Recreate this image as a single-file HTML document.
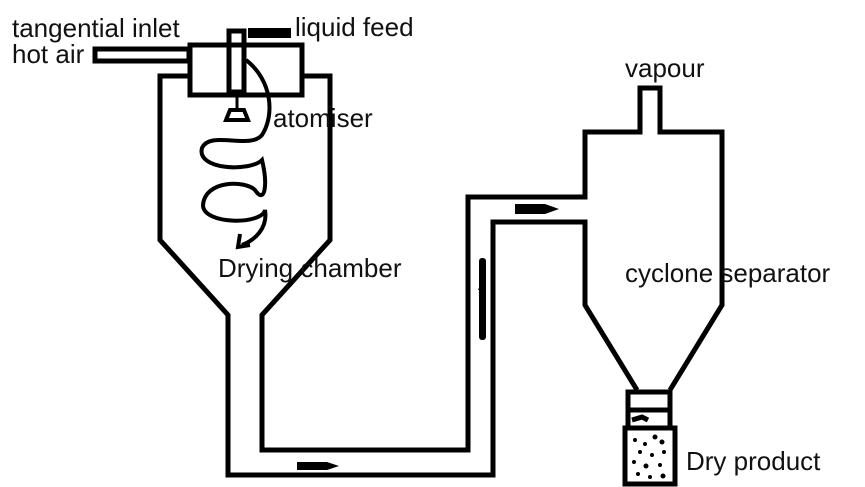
<!DOCTYPE html>
<html><head><meta charset="utf-8"><style>
html,body{margin:0;padding:0;background:#fff;}
svg{display:block;}
text{font-family:"Liberation Sans",Arial,sans-serif;font-size:26px;fill:#111;}
</style></head><body>
<svg width="865" height="487" viewBox="0 0 865 487" xmlns="http://www.w3.org/2000/svg">
<g fill="none" stroke="#000" stroke-width="5" stroke-linejoin="miter">
<rect x="95" y="49" width="94" height="12"/>
<rect x="190" y="45" width="112" height="50"/>
<rect x="229" y="31" width="15" height="61"/>
<polyline points="190,76 160,76 160,240 228,315 228,475 493,475 493,222 585,222 585,305 637,390"/>
<polyline points="302,76 330,76 330,240 262,315 262,450 468,450 468,197 585,197 585,132 640,132 640,88 660,88 660,132 722,132 722,305 670,390"/>
<rect x="628" y="392" width="42" height="18"/>
<line x1="628" y1="410" x2="628" y2="428"/>
<line x1="670" y1="410" x2="670" y2="428"/>
<path d="M632 420 l10 -3 l6 3"/>
<rect x="625" y="428" width="50" height="56"/>
<path d="M246 60 C 272 80, 275 115, 262 135 C 250 150, 210 130, 202 148 C 196 170, 250 172, 262 160 C 268 185, 265 205, 255 190 C 245 180, 205 180, 203 205 C 203 225, 262 225, 265 210 C 268 228, 255 240, 242 245" stroke-width="4"/>
<path d="M240 234 l-2 13 l12 -2" stroke-width="4"/>
<line x1="237" y1="95" x2="237" y2="108" stroke-width="3"/>
<path d="M226 120 l4 -10 l14 0 l4 10 z" stroke-width="4"/>
</g>
<rect x="248" y="28" width="43" height="10" fill="#000"/>
<path d="M515 204 h30 l14 5 l-14 5 h-30 z" fill="#000"/>
<rect x="479" y="258" width="7" height="82" rx="3" fill="#000"/>
<path d="M482 280 l-4 10 h8 z" fill="#000"/>
<path d="M297 462 h30 l12 4 l-12 4 h-30 z" fill="#000"/>
<g fill="#000">
<circle cx="635" cy="440" r="2"/><circle cx="645" cy="444" r="2"/><circle cx="655" cy="437" r="2.5"/><circle cx="662" cy="442" r="2.5"/>
<circle cx="640" cy="452" r="2"/><circle cx="652" cy="455" r="2"/><circle cx="664" cy="452" r="2"/><circle cx="634" cy="462" r="2"/>
<circle cx="646" cy="466" r="2.5"/><circle cx="660" cy="465" r="2"/><circle cx="638" cy="474" r="2"/><circle cx="650" cy="477" r="2"/><circle cx="663" cy="476" r="2.5"/>
</g>
<text x="12" y="37">tangential inlet</text>
<text x="12" y="63">hot air</text>
<text x="295" y="36">liquid feed</text>
<text x="273" y="127">atomiser</text>
<text x="218" y="277">Drying chamber</text>
<text x="625" y="77">vapour</text>
<text x="625" y="282">cyclone separator</text>
<text x="686" y="470">Dry product</text>
</svg>
</body></html>
